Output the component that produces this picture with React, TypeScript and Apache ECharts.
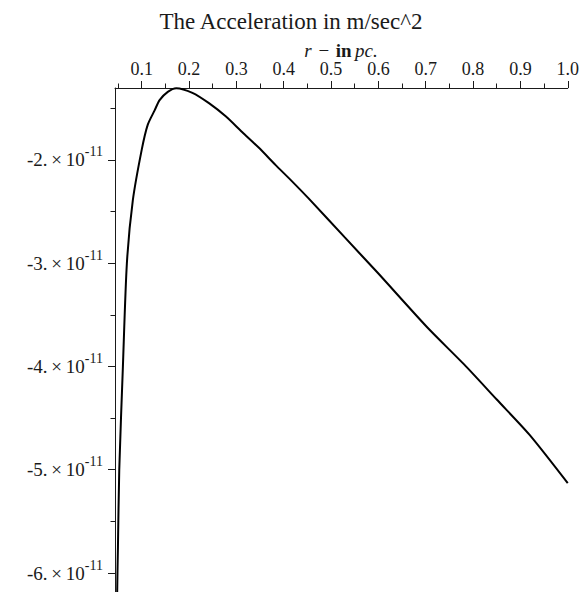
import React, { useEffect, useRef } from "react";
import * as echarts from "echarts";

// r in pc
const rValues = [0.0475, 0.0487, 0.0497, 0.0525, 0.0602, 0.0686, 0.0812, 0.1, 0.1126, 0.1272, 0.1377, 0.155, 0.173, 0.207, 0.242, 0.278, 0.312, 0.347, 0.383, 0.416, 0.452, 0.529, 0.598, 0.703, 0.781, 0.85, 0.919, 1.0];
// acceleration in units of 1e-11 m/sec^2
const accValues = [-6.4, -6.0, -5.75, -5.0, -4.0, -3.0, -2.39, -1.9, -1.66, -1.52, -1.42, -1.34, -1.305, -1.35, -1.45, -1.58, -1.73, -1.88, -2.05, -2.2, -2.37, -2.75, -3.09, -3.62, -3.98, -4.32, -4.66, -5.13];

const xMajorTicks = [0.1, 0.2, 0.3, 0.4, 0.5, 0.6, 0.7, 0.8, 0.9, 1.0];
const xMinorTicks = [0.05, 0.15, 0.25, 0.35, 0.45, 0.55, 0.65, 0.75, 0.85, 0.95];
const yMajorTicks = [-2, -3, -4, -5, -6];
const yMinorTicks = [-1.5, -2.5, -3.5, -4.5, -5.5];

const FONT = "Liberation Serif";
const INK = "#1a1a1a";

export default function App() {
  const ref = useRef<HTMLDivElement>(null);
  useEffect(() => {
    if (!ref.current) return;
    const chart = echarts.init(ref.current, null, { renderer: "svg" });
    const data = rValues.map((r, i) => [r, accValues[i]]);
    const xMin = 0.0435;
    const xMax = 1.0;
    const yMin = -6.184;
    const yMax = -1.303;
    chart.setOption({
      animation: false,
      backgroundColor: "#ffffff",
      title: {
        text: "The Acceleration in m/sec^2",
        left: "center",
        top: 5,
        textStyle: { fontFamily: FONT, fontSize: 23, fontWeight: "normal", color: INK },
      },
      graphic: [
        {
          type: "text",
          x: 341,
          y: 50,
          style: {
            text: "{i|r}  {n|−}  {b|in} {i|pc.}",
            align: "center",
            verticalAlign: "middle",
            fill: INK,
            rich: {
              i: { fontFamily: FONT, fontSize: 19, fontStyle: "italic", fill: INK },
              n: { fontFamily: FONT, fontSize: 19, fill: INK },
              b: { fontFamily: FONT, fontSize: 19, fontWeight: "bold", fill: INK },
            },
          },
        },
      ],
      grid: { left: 115, right: 10, top: 88, bottom: 0, containLabel: false },
      xAxis: [
        {
          type: "value",
          position: "top",
          min: xMin,
          max: xMax,
          axisLine: { show: true, onZero: false, lineStyle: { color: INK, width: 1 } },
          axisTick: { show: true, inside: false, length: 7, customValues: xMajorTicks, lineStyle: { color: INK } },
          axisLabel: {
            show: true,
            customValues: xMajorTicks,
            formatter: (v: number) => v.toFixed(1),
            fontFamily: FONT,
            fontSize: 18,
            color: INK,
            margin: 10,
          },
          splitLine: { show: false },
        },
        {
          type: "value",
          position: "top",
          min: xMin,
          max: xMax,
          axisLine: { show: false, onZero: false },
          axisTick: { show: true, inside: false, length: 4.5, customValues: xMinorTicks, lineStyle: { color: INK } },
          axisLabel: { show: false },
          splitLine: { show: false },
        },
      ],
      yAxis: [
        {
          type: "value",
          position: "left",
          min: yMin,
          max: yMax,
          axisLine: { show: true, onZero: false, lineStyle: { color: INK, width: 1 } },
          axisTick: { show: true, inside: false, length: 7, customValues: yMajorTicks, lineStyle: { color: INK } },
          axisLabel: {
            show: true,
            customValues: yMajorTicks,
            formatter: (v: number) => `{a|${v}.\u2009×\u200910}{s|-11}`,
            margin: 12,
            rich: {
              a: { fontFamily: FONT, fontSize: 19, color: INK, lineHeight: 30 },
              s: { fontFamily: FONT, fontSize: 14, color: INK, verticalAlign: "top", lineHeight: 16 },
            },
          },
          splitLine: { show: false },
        },
        {
          type: "value",
          position: "left",
          min: yMin,
          max: yMax,
          axisLine: { show: false, onZero: false },
          axisTick: { show: true, inside: false, length: 4.5, customValues: yMinorTicks, lineStyle: { color: INK } },
          axisLabel: { show: false },
          splitLine: { show: false },
        },
      ],
      series: [
        {
          type: "line",
          xAxisIndex: 0,
          yAxisIndex: 0,
          data,
          showSymbol: false,
          smooth: 0.25,
          clip: true,
          lineStyle: { color: "#000000", width: 2 },
        },
      ],
    });
    return () => chart.dispose();
  }, []);
  return (
    <div
      ref={ref}
      style={{ position: "fixed", left: 0, top: 0, width: 582, height: 592, background: "#fff" }}
    />
  );
}
